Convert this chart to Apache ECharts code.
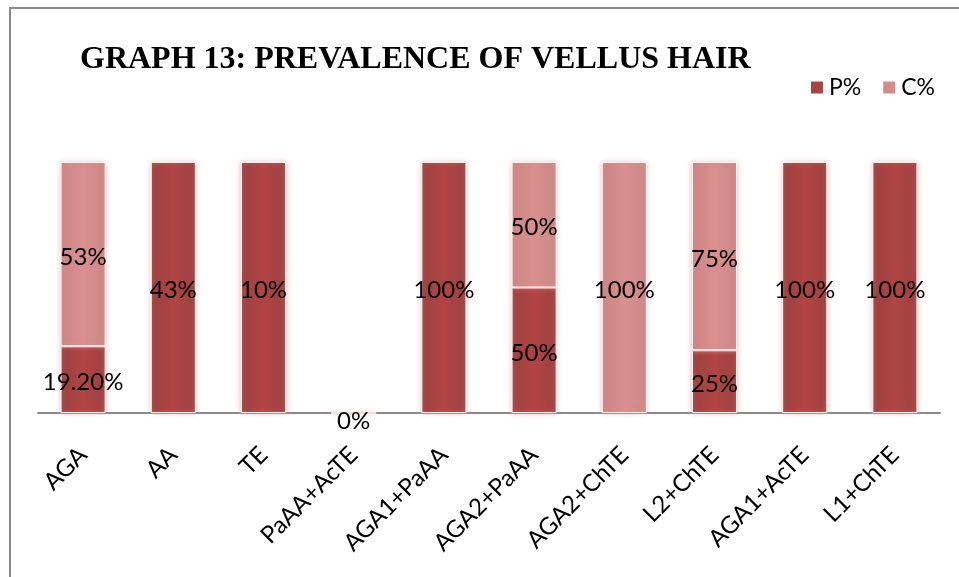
<!DOCTYPE html>
<html>
<head>
<meta charset="utf-8">
<script src="https://cdn.jsdelivr.net/npm/echarts@6/dist/echarts.min.js"></script>
<style>
  html, body { margin: 0; padding: 0; background: #fff; }
  #frame { position: absolute; left: 9px; top: 7px; width: 960px; height: 580px;
           border-left: 2px solid #8a8a8a; border-top: 2px solid #8a8a8a; box-sizing: border-box; }
  #chart { width: 959px; height: 577px; position: absolute; left: 0; top: 0; }
</style>
</head>
<body>
<div id="frame"></div>
<div id="chart"></div>
<script>
// Groups on the x axis
const categories = ['AGA', 'AA', 'TE', 'PaAA+AcTE', 'AGA1+PaAA', 'AGA2+PaAA', 'AGA2+ChTE', 'L2+ChTE', 'AGA1+AcTE', 'L1+ChTE'];
// Prevalence per group (percent); null = no entry
const pValues = [19.2, 43, 10, 0, 100, 50, null, 25, 100, 100];
const cValues = [53, null, null, null, null, 50, 100, 75, null, null];

// Stack as share of each group's total (100% stacked columns)
const totals = categories.map((_, i) => (pValues[i] || 0) + (cValues[i] || 0));
const share = (vals) => vals.map((v, i) => {
  if (v === null) return null;
  const item = { value: totals[i] > 0 ? v / totals[i] * 100 : 0, raw: v };
  // an empty column's label sits just under the axis line
  if (totals[i] === 0) item.label = { offset: [0, 8] };
  return item;
});

const fmt = (p) => {
  const v = p.data.raw;
  return (Number.isInteger(v) ? v : v.toFixed(2)) + '%';
};

const darkGrad = new echarts.graphic.LinearGradient(0, 0, 1, 0, [
  { offset: 0, color: '#9a4140' }, { offset: 0.5, color: '#b04443' }, { offset: 1, color: '#9d4241' }
]);
const lightGrad = new echarts.graphic.LinearGradient(0, 0, 1, 0, [
  { offset: 0, color: '#cc8585' }, { offset: 0.5, color: '#d9908e' }, { offset: 1, color: '#cc8888' }
]);

const labelStyle = {
  show: true, position: 'inside', formatter: fmt, offset: [0, 3],
  color: '#000', fontFamily: 'Lato', fontSize: 24
};

const chart = echarts.init(document.getElementById('chart'));
chart.setOption({
  backgroundColor: 'transparent',
  animation: false,
  title: {
    text: 'GRAPH 13: PREVALENCE OF VELLUS HAIR',
    left: 75, top: 39,
    textStyle: { fontFamily: 'Liberation Serif', fontWeight: 'bold', fontSize: 32, color: '#000' }
  },
  legend: {
    right: 19, top: 71, itemWidth: 14, itemHeight: 14, itemGap: 20,
    icon: 'rect',
    textStyle: { fontFamily: 'Lato', fontSize: 23, color: '#000' },
    data: [
      { name: 'P%', itemStyle: { color: '#a94443' } },
      { name: 'C%', itemStyle: { color: '#d48c8b' } }
    ]
  },
  grid: { left: 38, right: 19, top: 162, bottom: 164 },
  xAxis: {
    type: 'category', data: categories,
    axisLine: { lineStyle: { color: '#8a8a8a', width: 2 } },
    axisTick: { show: false },
    axisLabel: { rotate: 45, margin: 38, color: '#000', fontFamily: 'Lato', fontSize: 24, interval: 0 }
  },
  yAxis: { type: 'value', min: 0, max: 100, show: false, splitLine: { show: false } },
  series: [
    {
      name: 'P%', type: 'bar', stack: 'total', barWidth: '50%',
      data: share(pValues),
      itemStyle: { color: darkGrad, borderColor: '#fff', borderWidth: 1,
                   shadowColor: 'rgba(240,150,150,0.7)', shadowBlur: 5 },
      label: labelStyle
    },
    {
      name: 'C%', type: 'bar', stack: 'total', barWidth: '50%',
      data: share(cValues),
      itemStyle: { color: lightGrad, borderColor: '#fff', borderWidth: 1,
                   shadowColor: 'rgba(240,150,150,0.7)', shadowBlur: 5 },
      label: labelStyle
    }
  ]
});
</script>
</body>
</html>
